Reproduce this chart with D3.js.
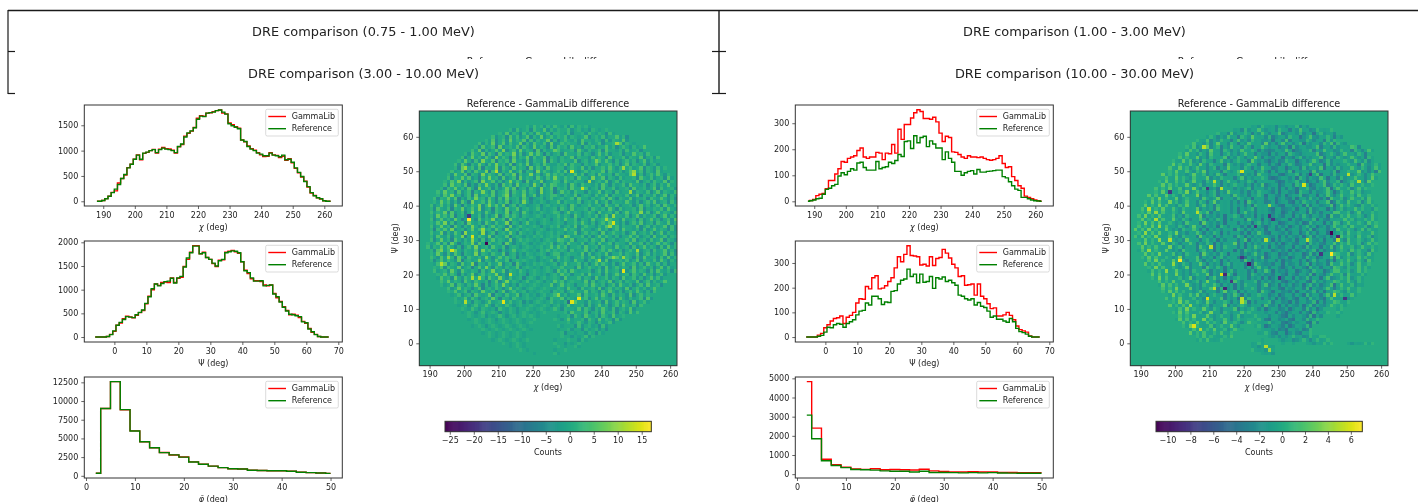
<!DOCTYPE html>
<html>
<head>
<meta charset="utf-8">
<script src="https://cdn.jsdelivr.net/npm/d3@7"></script>
<style>
body { margin: 0; background: #fff; overflow: hidden; }
svg { display: block; filter: blur(0.45px); }
text { font-family: "DejaVu Sans", sans-serif; fill: #222; }
</style>
</head>
<body>
<div id="chart"></div>
<script>
// bins
const chiBins = d3.range(188, 263);
const psiBins = d3.range(-6, 68);
const phiBins = d3.range(2, 52, 2);

const titles = ["DRE comparison (0.75 - 1.00 MeV)", "DRE comparison (1.00 - 3.00 MeV)",
    "DRE comparison (3.00 - 10.00 MeV)", "DRE comparison (10.00 - 30.00 MeV)"];
const diffTitle = "Reference - GammaLib difference";

// 3-10 MeV histograms
const gammaChiA = [0,2,15,52,100,175,205,360,450,520,665,730,830,915,820,945,965,1000,1025,950,1030,1060,1040,1035,1010,950,1075,1120,1285,1340,1385,1455,1640,1690,1680,1740,1745,1770,1790,1800,1740,1725,1545,1510,1470,1440,1210,1175,1090,1040,1010,960,915,885,890,960,915,905,865,890,810,840,760,650,560,480,395,280,165,115,70,45,8,2,0];
const refChiA = [0,2,15,50,100,170,240,330,450,530,660,730,830,910,830,950,970,1000,1020,960,1020,1050,1030,1020,1000,960,1080,1130,1270,1350,1390,1450,1620,1680,1670,1740,1750,1760,1790,1800,1760,1720,1530,1490,1460,1430,1210,1180,1080,1030,1000,950,930,900,900,950,910,900,880,910,820,830,770,660,570,490,390,290,170,110,70,50,10,2,0];
const gammaPsiA = [0,0,0,0,12,55,120,250,295,385,440,425,405,460,515,560,700,860,1000,1120,1090,1150,1160,1150,1250,1150,1240,1260,1490,1640,1790,1930,1930,1760,1790,1680,1640,1550,1490,1620,1630,1790,1810,1830,1800,1770,1590,1410,1340,1230,1190,1190,1170,1100,1080,1100,920,830,750,640,560,470,480,460,410,330,290,180,100,55,10,2,0,0];
const refPsiA = [0,0,0,0,10,50,130,250,310,370,430,420,410,470,520,570,710,850,1020,1120,1080,1130,1170,1180,1240,1140,1250,1280,1480,1670,1780,1920,1920,1760,1780,1680,1640,1560,1500,1610,1640,1780,1800,1820,1810,1780,1590,1400,1360,1250,1180,1180,1190,1080,1090,1100,910,850,740,630,550,480,470,450,430,320,300,170,110,50,10,2,0,0];
const gammaPhiA = [345,9010,12600,8840,6010,4560,3740,3110,2790,2510,1860,1560,1300,1090,950,910,750,700,680,680,600,490,420,370,320];
const refPhiA = [350,9000,12600,8850,6000,4550,3750,3100,2800,2500,1850,1550,1300,1100,950,900,750,700,680,680,600,480,420,370,320];

// 10-30 MeV histograms
const gammaChiB = [0,3,7,22,27,30,48,80,80,105,125,153,150,165,170,175,195,205,170,165,170,170,188,185,160,185,183,218,185,277,238,295,295,320,340,352,345,318,318,315,323,305,262,230,250,245,190,188,180,170,165,175,170,170,168,170,165,160,158,160,165,175,145,130,133,95,80,60,50,20,15,10,5,2,0];
const refChiB = [0,2,5,10,12,27,46,50,60,65,97,110,102,115,125,120,147,150,130,120,120,120,153,125,130,133,150,145,157,180,172,230,232,203,252,225,245,250,210,232,220,205,205,160,190,165,150,115,115,100,110,115,118,105,122,112,112,115,116,118,120,120,95,90,75,60,47,42,15,15,10,5,2,1,0];
const gammaPsiB = [0,0,0,0,8,15,38,50,65,75,78,85,55,80,88,100,138,155,153,205,195,240,248,195,198,208,225,240,280,325,305,335,370,330,328,325,292,295,288,325,290,318,322,355,340,320,295,280,245,248,210,212,215,170,215,165,155,135,115,118,85,85,90,100,88,70,45,30,25,20,5,0,0,0];
const refPsiB = [0,0,0,0,3,7,20,40,38,50,55,52,40,55,62,70,90,105,108,138,130,165,165,155,132,142,140,185,188,215,230,235,275,245,255,220,255,222,225,245,197,240,235,243,225,230,220,210,170,165,155,150,155,130,140,125,120,105,80,85,72,72,65,60,75,62,35,22,18,12,3,0,0,0];
const gammaPhiB = [4830,2400,780,500,360,270,250,280,230,240,230,220,260,170,140,110,110,130,110,110,90,85,80,80,80];
const refPhiB = [3080,1850,700,450,340,240,230,210,170,150,150,110,150,90,85,80,70,80,70,80,60,55,50,50,50];

// tick labels
const chiTicks = [190, 200, 210, 220, 230, 240, 250, 260];
const psiTicks = [0, 10, 20, 30, 40, 50, 60, 70];
const phiTicks = [0, 10, 20, 30, 40, 50];
const mapPsiTicks = [0, 10, 20, 30, 40, 50, 60];
const chiCountTicksA = [0, 500, 1000, 1500];
const psiCountTicksA = [0, 500, 1000, 1500, 2000];
const phiCountTicksA = [0, 2500, 5000, 7500, 10000, 12500];
const chiCountTicksB = [0, 100, 200, 300];
const psiCountTicksB = [0, 100, 200, 300];
const phiCountTicksB = [0, 1000, 2000, 3000, 4000, 5000];
const barTicksA = [-25, -20, -15, -10, -5, 0, 5, 10, 15];
const barTicksB = [-10, -8, -6, -4, -2, 0, 2, 4, 6];

// difference maps, hand estimates of the picture's texture (single cells are too
// blurred to read; the strongest cells are in peaks*). One string per psi row,
// psi 63 down to psi -3, first chi bin in rowStart*. digit = +n, a..i = -n, _ = 0
const rowStartA = [218,213,210,208,206,204,203,202,200,199,198,197,197,196,195,195,194,194,193,192,192,191,191,190,190,190,190,190,190,190,190,190,190,190,189,189,189,190,190,190,191,191,191,192,192,193,193,194,195,196,196,197,198,198,199,200,201,202,202,204,205,206,208,210,213,215,220];
const rowsA = [
"1a2.1b1a2. a1b2a1.1a",
"1b2a.1c2.a 3b1a2.b1c2 a1.2b1a.1",
"1a3b1.c2a1 b3.a2c1a.3 b2a1c.2b1a 1b1",
"2b.1c3a2b. 3c1a4b.2a1 c3.b2a1.c2 a3b1.2c1",
"1a3c.2b4a1 .3c2b1a.4c 2a.3b1c2a. 4b1c3.a2b 1",
"2b1a4c.3b2 a.4c1b3.a2 c4b.1a3c.2 b1a4.c2b3 a.1c",
"1c3a.2d4b. 1a3c2.b4a1 .c3b2a.4d1 3a.b2c4.a1 b3.c1a2",
"2a4c1b.3a5 c.2b4a1.d3 c1a.4b2.c3 a1.5c2b.a3 c1.b4a.2",
"1b3.a4c2.d 3a1.5b2c.4 a3.d1b4.a2 c3.1a4b.c2 5a.1c3b.2 a1",
"2c.4a1b3.c 5a2.d3b1.4 c2a.3d1.b4 a2.c3b.1a5 c.2d1a3.b 4c1a",
"1a4.c2b5.a 3d1.2c4a.b 3c1.a4d2.b 5a.1c3b.2a 4d1.c3a.2 b4.1c",
"2b3.d1a4.c 2a5.1b3d.2 a4c.1b3.a2 d5.c1b3a.4 c2.1a3d.b 4a1c.2b",
"1c4a.2b3d1 .a5c2.b3a1 .d4b2.c3a. 1b4d.a2c3. 5a1.b3c2 .a4d1.2b1",
"2a.4c1b3.a 5d2.c1a4b. 3c1.d5a2.b 3c.1a4d2.b 3a5.c1d2. b4a.1c3.a",
"1b4.a3d1.c 5a2.b3c1.4 d2a.5b1c.3 a2.d4b1.c3 a.2d5c1.a 3b4.c1a2.d 1",
"2c1.4a3b.d 2a5.1c3b.2 d4a1.c3.b2 a5.d1c4.a2 b3.1d4a.c 2b1.5a3.c1 b2",
"1a3.5c1b.2 d4a.3b1c.5 a2.d3b1.4c a.2b5.d1a3 .c2b4.a1d .3c2a.4b1. c1",
"2b4.1a3d.c 2a5.b1d3.2 c4a.1b5.d2 a3.c1b4.a2 d.5c1.a3b .4d2.c1a3 .b1",
"1c2.4a1b3. d5a.2c1b.4 a3d.1c2.b5 a.3d1c.4a2 .b3c1.5d. a2b4.c1a3 .d2b1",
"2a4.1c3b.2 d1a5.b3c.1 4d2.a3b1.c 5a.2d3.b1c .4a1.d3b2 .c5a1.b3d .2a4c1",
"1b3.5a1c.2 d4b.1a3c.2 5d1.a4b.3c 1a.2d.1b.a 3c1.d4a2. b5c.1a3d. 2b4a.1c",
"2c1.4a3d.b 2a5.1c3.d2 b4a.1c3.d a.1b.2a.c .3d1a.4b2 .c3a5.1d .b2c4.a1",
"1a4.2b1c3. d5a.2b4.c1 a3d.1b5.c .a1.b.2c.1 a4d.2c1.3 b5a.1d2. c3b1.a4 c2",
"2b.3a1c4.d 1a2.5c1b.3 a4d.2c1.b a.1c.1a.2 b.3d4.a1c 2.5b1a.3 d2c4.1a b3",
"1c3.a2d1.4 b.3a5c.1d2 .b4a.3c. 1a.2b.a.1 c.2a3.d1b 4.c2a5.1 d3b.2c1 a2",
"2a1.4c3b.2 d.5a1b3.c2 .a4d1.c3 .b.a1.a.2 b.1c4.a2d .3b5c.1a 3.d2b1 .4a",
"1b4.2a3d.1 c5.a2c1b.4 d.3a2.c1 .a.1.b.a1 .2c1.a3d. b4.c2a1. 5d.b3 a1c",
"2c.3a1b4.d a2.c3a1.5 b.2d4.a1 .b1.a.1.c .1a3.d2b .4a1c.3 b2.5d 1a3",
"1a3.5b2c.1 d4.a1c3.b 2a.5d1.c .3a.b.1.a .2b.d3a1 .c4.b2a .3c1 d4",
"2b.4a1d3.c 1a5.b2c.3 a1.d4b.2 .a.1.c.a1 .b3.c1a4 .d2.b3a .1c4 a2",
"1d2.3a5b.1 c.4a2d.1b 3.c5a.1b .1.a.1.b. a.2c1.a3 b.4d1.a .2b3 c1",
"2a.4c1b3.d 6a1.b3c.2 d.1a4.c2 .a.b1.a.1 .c2.b1a. 3d.2c4 .a1b 3c",
"1b3.a2c1.5 d.9a2.b4 c1.a3d.1 .b.a1.1a. 1.d2a.4 c1b.3a .2d1 a4",
"2c.4a1d3.b 1a6.c2d.3 a1.b4c.2 .1.a.b.1 .a3.c1d .b2a.4 c1.3 b2",
"1a.3b2c4.d a1.5c3.b 2a.1d4.c .a1.b.a.1 .2c1.b3 a.d4.1 b2a3 .c1",
"2b1.4a3.c1 d.2a5b.1 c3.a2d.1 .b.1.a.1 a.3d2.b 1c4.a .2b3 c1a.",
".1c3.a2d4. b1.a3c5. 2a.d1b.3 a.1.a.b1 .2a1.c4 b.3d1 .a2c .3b1",
"1a4.c2b3.d 1.a5c1.b 2.a3d.1c .b1.a.1. c.2a3.b 1d.4a .2c1 .b3",
"2.b3a.1d4. c2.a1b5. c.3a2.1d .a.1.b.1 .a2c.3b .1a4d .2b .c1",
"1c.3a2.b4d .1a.5c1. b3.a2d.1 .1.a.b.a .2c1.a3 d.b2c .4a .1",
"a2.4b1.c3a .5d1.b2a. 4c.1d3.b .a1.1.a. .3b1.a2 c.4d1 .a2 b",
"1.3c2.a4b. 1d.3a5.c 2.b1a.3c .1.a.b.1 a.2d1.c 3a.1b .4c",
"2a.1b4.c3. a1.d2b.5 a.3c1.a2 .b.1.a.1 .c3.a1d .2b4 .a",
"1.3a2.d1b. 4c.2a1.5 b.c3.a1 .d.1.a.b .1a3.c2 d.1a .3",
"a3.1c4.b2. a.d1c3.a 5.b2a.1d .1.b.1a .c2.a3 b.1c .2",
"2.4a1.c3. b2.a1d.3 c.5a1.b .2a.1.b .a3.c1 d.2 a1",
"1a.3c2.b1 a4.d1c.2 a5.b.c1 .a.1.a. .3b2.a c1.3",
".2b.4a1.c .3d.1a2.c .4a1.b .1.a.1 .a2c.1 b3.a",
"1.3a.2c1. b4.a1d.3 c.2a.1 b.a.1. .c1.a2 b.1",
"a.2b.1c3. a.4d1.b2 a.3c. 1a.b.1 a.2c.1 a3",
".1a.3b2.c .1a4.d1. b2.a .1.a.1 .c2.a 1.",
"1.a2.c1.b .3a.1d.2 a.1c .b.1.a .2a.1 c",
"a.1b.2a.3 .c1.a2.b .1a. 1.a.1 .b.1a",
".1.a2.b1. a.c2.a1 .b. .1.a. 1.a.1",
"a.1.b.2a. 1.c.a1 .b .1.a .a.1",
".1.a.1b. a.2.b .1 a.1. 1.a",
"a.1.a.1. b.1.a .1 .a. .1",
".1.a.1.a. 1.a.1 .a .1",
"a.1.b.1. a.1. a.1 .a",
".1.a.1.a .1.a .1.a",
"a.1.a.1 .a.1 .a.",
".1.a.1. a.1.a",
"a.1.a. 1.a.1",
".1.a.1.a",
"a.1.a.",
".1.a",
"a."
];
// right half of the map, psi 62 down to psi -3, first chi bin in rightStarts
const rightStarts = [226,227,228,226,227,228,227,226,228,227,226,228,226,227,228,227,226,228,227,226,228,226,227,228,227,226,228,227,226,228,226,227,228,227,226,228,227,226,228,226,227,228,227,226,228,227,226,228,226,227,228,227,226,228,227,226,228,226,227,228,227,226,226,226,226,226];
const rowsRightA = [
"a1..2b.1a. b1.a.",
"1.a2c..1b2 .a1.c2a.",
".2b1.a.3c. 1a2b..3a1c",
"1c.2.a1b3. .a1.c2b1.a 3b",
"a2.1..b3c1 a.2c..1a3b 1.a",
".1b3a.c1.2 b..3a1c.2. b1a.3",
"2a..1c3.b1 a.2c3..a1b 2a.1c",
".1c3..a2b1 .c.3a2b..1 c.a3.1b2",
"1a.3c1..b2 a1.c3a..2b 1.a3c.1b2",
"b1..a3c.1b ..2a3.c1b. 2a1c.3b1a",
"a1.3b2..c1 a.3b..2a1c .3b1.a2c.1b",
"1c.2.a3b1c ..2a3.b1c. 2a.3c1.b2a1",
".2a3c1.b.2 a1..3c2.a1 b.3a.2c1.b3a",
".1b..3a2c. 1b3.a1c2.. a3.b1c.2a3 .b1",
"a2.1c3..b1 a.3c1.b2a. .1c3.a2b.1c 3a",
"1b3.a1..c2 b.1a3c.2b1 ..a3c.1b2. a3c1",
"2.a1c3.b2. .a1b3.c1a. 2b3..a1c.2 b1a3",
".1c3..a2b. 1c3a.2b..1 c3a.1b.3c2 a.1b2",
"a3.1b2..c1 a.3b1.c2a. .3b1.a2c.3 b1.a2",
"2.b1.a3c.1 .b2a.3c1.. a2b.3c1.a2 b.3c1a",
"1a.2c3..b1 a.2b3.c1.a 3b..1c2.a3 .b1c2a",
".3b1..a2c. 1a3b.2c1.. a3.b1c.2a3 b.1c2a.",
"a1.c3.b..2 a.1c3.a2b. .1c.3a1b.2 c3.a1b2.",
"2.b3a..1c2 .a1b3.c2a. .1b3c.a1.2 b3.a1c2.",
"1c.3a1.b.2 .c3a.1b2c. 3a1..b2c.3 a1.b2c3.",
".2a1.c3.b. 1a2c.3b1.. a2c.3b1a.2 c.3b1a.2",
"a3..2c1.b3 a.1c2..b3a .1c2b.3a1c .2b3a.1c",
"1.c..2a3.b 1c.2a3..b1 c.2a3b.1c2 .a3b1.c2",
".2b.1a3c.2 ..b1a3c.2b 1..a3c.2b1 a.3c2b.1",
".3a1.c2..b .3a1c.2b3. .a1c2b.3a1 .c2b3a.1",
"a1.b..3c.2 a1.c3b.2.a 1c.3b.1a2c .3b1.a2c",
"1c.3a..2b1 c.3a2.b1c. .3a2b.1c3a .2b1.c3a",
"2.a3c..1b2 .a3c.1b..2 a3c.1b2a.3 c1.b2a3c",
".1b3..a2c. 1b3a.2c1.. b3a.2c1b.3 a2.c1b3a",
"a3.2c..1b3 a.1c2..b3a .1c2b.3a1 .c2b3a1c",
"1.c2a..3b1 c.2a3.b1c. 2a3b.1c2a. 3b1c.2",
"2b.1..a3c2 b.1a3c..2b 1.a3c.2b1a .3c2b.1",
".3a1.c..2b .3a1c.2b3. a1.c2b3a.1 c2b3a1",
"a1.b3..c1a 2.b3c..1a2 b.3c1.a2b3 .c1a2b",
"1c.3a..2b1 c.3a2.b1c. 3a.2b1c3.a 2b1c",
".2a..c3b.2 .a1c3b.2a1 .c3b.2a1c. 3b2a",
".2b3.a..1c .2b3a.1c2b .3a1.c2b3. a1c2",
"a3.1c..2b3 a.1c2b.3a. 1c2.b3a1c. 2b",
"1.c3a..2b1 .c3a.2b1.c 3a.2b1c.3a 2b",
"2b.1..a3c2 b.1a3c.2b1 .a3c.2b1a. 3",
".3a1.c..2b 3.a1c.2b3. a1c.2b3a.1 c",
"a1.b3..c2a .1b3c.2a1. b3c.2a1b.3",
"1c.2..a3b1 .c2a3.b1c. 2a3.b1c2.",
"2.a1b..3c2 a.1b3.c2a1 .b3c.2a1",
".3b1.a..2c .3b1.a2c3. b1a.2c3b",
"a1.c3..b2a .1c3b.2a1. c3b.2a",
"1b.3a..1c2 b.3a1c.2b3 .a1c2",
"2.c1..a3b2 .c1a3.b2c. 1a3b",
".1b3..a2c. 1b3a.2c1.b 3a2",
"a..1c2.b3. a1c2.b3a. 1",
"1.b.3a..1c 2.b3a1.c2b",
"..1a.2.b1. c1a.2b",
".1a...c2b. 1a.c2b",
"a..1b..c1a .1b.c",
"1c..a..b1. c1a",
".1..b.a.2 b1",
"a...1..b1a .",
"1..b.a.1",
".1.a..1a",
"a..1.",
"1a."
];
const peaksA = [[231,50,15],[209,50,12],[200,51,10],[201,36,17],[201,37,-18],[206,29,-26],[205,32,10],[205,33,10],[196,27,14],[193,27,8],[193,23,12],[195,25,9],[202,19,11],[204,19,11],[213,20,13],[200,12,12],[211,12,15],[231,12,15],[230,12,-10],[233,13,15],[234,45,13],[236,47,11],[244,58,11],[246,51,10],[249,49,12],[249,50,10],[248,44,10],[251,38,9],[241,36,11],[243,37,10],[243,35,14],[242,34,10],[246,21,15],[250,27,11],[246,25,10],[239,24,11],[229,31,8],[227,14,9],[243,25,9],[205,47,8],[207,40,8],[237,48,8],[238,53,8]];

const rowStartB = [222,217,212,209,206,205,203,203,201,201,199,199,198,198,196,197,195,196,194,194,192,193,191,191,190,190,189,190,189,189,188,189,188,190,189,190,189,191,190,191,191,192,192,193,193,195,195,196,196,198,197,199,198,200,199,201,200,202,202,204,204,206,206,222,222,222,225];
const rowsB = [
"a.b1.a.c.a b.a1c.b",
"a.c1b.a2.c b.1a.d1.b2 a.c1b.a.1",
"1a.c2b.a1. d.b2a.c1.b a.c2.b1a.d 1.a",
"a1.c.b2a.d 1.b3.a.c1b .a2.d.b1.c a.2b.c1a",
"1.a2c.b1.a d.2b.c1a.b 3.c1.d.a2. b.c1a.b2.d 1",
"2a.b1c.3a. c1.d.b2.a .c3.a1.d.b 2.c.a1b.d. 1a.c2",
"1.2b.a3c.1 d.b2a.c1. d.a2.b1.c .3a.d.b1.c a.2d.b1c. a.1c",
"a2.1c.b3.a d1.c.b2.a 1.d.c3.a.b 1.c.d2.a.b 1.c.a3.b. d1.c.2a",
"1.3a.b1.c2 a.d.1b.c. 2a.d.b1.c .a3.d1.b. c.2a.d1.b c.a3.b1.d",
"2.1a.3b.c1 .a.2d.b1. c.a3.d.b. 1c.a.d2.b .c1.a.d3. b.1c.a2.d 1.",
"1.a3.2b.c1 a.d.2b.c. 1a.d3.b.c 1.a.d.2b. c1.d.a3. b.c1.d.a2 .b1c.",
"3.1a.2.b3. c1.a.d2.b .c.1a.d.b 3.c.a1.d. b2.c.d.a 1.b.3c.a. d2.b.1a",
"2.a3.1b.2a .c.1d.b3. a.c1.d.b2 .a.c.d1.b .a2.c.d. 1b.c.a3.d .b1.c.2a",
"1.3.a2.b1. 3c.a.d1.b .2c.a.d.1 b.c.d2.a .b.c1.d. a.b2.c.d 1a.3b.c. d2",
"3.1.2a.b.3 .a1c.b2.d .a.1c.b.d 2.a.c.b1 .d.a.c2. b.d1.a.c .3b.a1.c .2",
"2.a3.1.b2. a.3c.b1.a .d.2c.b.a 1.d.c.b2 .a.d.c1. b.a.d.2c .b1.a.c .3a",
"1.3.a2.1b. 3a.c1.b.d .2a.c.b1. d.a.c.d2 .b.a.c.1 d.b.a2.c .d1.b.a .c3",
"3.2.1a.3.b .1c.a2.d. b.1a.c.d .b2.a.c. d1.b.a.c .d.2b.a. c1.d.b3 .a.1",
"2.1.3a.2b. a4.c1.b. d2.a.c.b .1d.a.c. b.d2.a.c .b1.d.a. c.3b.a .2c.1",
"1.3.2.a1.4 b.2a.c.1 d.b3.a.c .d.b1.a. c.d.e.2b .a.c1.d. b.a3.c .1b.d.2",
"3.2.a3.1.b 2.a.4c.b .1d.a.c2 .b.d.a1. c.e.b.d .2a.c.b1 .d.a.3 c.b1.a.2",
"2.4.1a.3b. 1.a.c2.b .3d.a.c1 .b.e.a.d .c.b2.a .d.c1.b. a.2d.c .b1.a.3",
"1.3.2.a4.1 b.2a.c1. d.3b.a.c .d.e2.b. a.c.d1.b .a.e.c2. b.a1.d .c.2b.a 1",
"3.1.4.2a.b 1.3a.c.2 b.d1.a.c .b.d.e1. a.c.b.d .2a.e.c. b1.a.d .c2.b.a .1",
"2.4.1.3.a2 .b1.a.3c .b.d2.a. c.e.b.1 d.a.c.e. b2.a.d. c.1b.e .a.c2.b .a1",
"1.3.5.2.a1 .b3.a.c1 .2d.b.a. c.e.2b. d.a.e.c .b.1a.d .c.e2. b.a.c1 .d.2a",
"2.4.1.3.a. 2b.c1.a. 3d.b.c. e.a1.d. b.e.c.a .d.2b.e .c.a1. d.b.c2 .a.1b",
"3.1.6.2.a3 .b1.c.a2 .d.b1.e .c.a.d2 .b.e.c. a1.d.b. e.c.2a .d.b1 .c.a2",
"1.4.2.3a.1 .b.c2.a. d3.b.c. e.a.d.b .e.1c.a .d.b.e. c1.a.d .b.c2 .a.1",
"2.1.3.5.2a .b1.c.3a .d.b.e1 .c.a.d. e.b.c2.a .d.e.b .c1.a.d .e2.b .c.a1",
"3.2.4.1.a3 .b.c1.a2 .d.e.b. c.a.e1. d.c.b.e .a.d2.c .b.e.a .1d.b .c2",
"1.5.2.3.a1 .4b.c.a2 .d.b1.e .c.a.d. e.b2.c. a.e.d.b .1c.a.e .d.b2 .c.1",
"2.3.1.4.a. 2b.c1.a. d3.b.e. c.a.d1. e.c.b.a .e.d.2b .c.a.e .1d.b .2",
".3.1.5.a2. b.c3.a.d .1b.e.c .a.d.2e .b.c.a. d.e.1b .c.a.d .e2.b .1",
"2.4.1.a3.b 1.c.a2.d .b1.e.c .a.3d.e .c.b.a. e.d1.b. c.a.e2 .d.b .a",
"3.1.2.a.4b .1c.a.d2 .b.e.c1 .a.d.e. b2.c.a. d.e.1b .c.a.d .2e.b",
".2.5.1.a3. b.c2.a.d .1b.e.c .a.e.d1 .b.c.a. e.d.b2 .c.a.e .1d.",
"3.1.4.a.2b .c1.a.d3 .b.c1.e .a.d.c. 2b.e.a .d.c1 .b.e.a .2c",
"1.3.2.a1.b .4c.a.2d .b.e.1c .a.d.e. b.c2.a .e.d.b .1c.a .d2",
".2.4.1a.3. b.c.a2.d .b1.e.c .a.d2. e.b.c .a1.d.e .b.c .2a",
"3.1.2.a.5. b1.c.a3 .d.b.e .1c.a.d .e2.b.c .a.d1 .e.b .c",
"1.4.2.a1.b .3c.a.d2 .b1.e.c .a.d.e .2b.c.a .d1.e .b.a",
".2.1.5a.3. b.c1.a2 .d.b.e. 1c.a.d .e.b2.c .a.d1 .b.",
"3.2.1.a4.b .c.1a.3d .b.c2.e .a.d1. b.c.e .2a.d .b1",
"1.4.2.a.1b .3c.a.d .2b.e.c .1a.d. b.e.c2 .a.d .1",
"2.1.3.a2.b .1c.4a.d .b.e2. c.a.1d .b.e.c .2a.",
".3.2.1a.4. b.c1.a2 .d.b.e .c1.a. d.2b.e .c.a .1",
"2.1.4.a.3b .c.a2.d1 .b.e.c .a1.d .b.e2 .c.a",
"1.3.2.1a.b .2c.a.d .3b.1e .c.a. d2.b .e.c 1",
".4.1.a2.3b .c.1a.d .b2.e. c.a1 .d.b .e2.c",
"2.1.3.a.1b .c4.a.2 d.b.e .c1.a .d.b .1e",
"1.4.2.a1.b 3.c.a1.d .b.2e .c.a .1d.b .e",
"3.1.2.5a.b .1c.a.3 d.b.1 .c.a .d2.b .1",
".2.4.1.a3. b1.c.a .2d.b .1.c .a.d .2b",
"1.3.2.a.1b .4a.c1 .b.a2 .1. .a.b .1",
"2.1.4.a.3. b.1a.c .2b.a .1 .a.1 .b",
".3.2.1a.4. 1b.a2.c .1a. __ .1a .b.",
"2.1.3.a2.1 .b3.a1. c.2 __ .a.1 .a",
"1.4.1.a.2b .1a.3 .b_ ___ .1a. 1",
".2.6.1.3a. 1b.2 _._ ____ .a1 .",
"3.1.2.a1.2 .a1 ___ ____ a.1 a",
"1.2.1.a.1. 2_ __ ____ ____ .1a.b .1.a.b .1 a.1",
".1.2.a.1_ __ ____ ____ .a.1.b .a.1.b .a 1",
"a.1.2.a __ ____ ____ ___ .a.1 ____ .b.a.1 .1",
"a.b.1.a",
"1.a.b5.",
".a.b",
"a.1"
];
const rowsRightB = [
"ba.c1.ad.b 2a.cb1.a",
"c.a2db..b1 ca.e.1ba.c",
"dba.c1a.eb .2bc.a1.d .b",
"b.ea.c2d.a bb1.ca.d1b",
"cad.2b.ca1 e.b..c1a2d 1ab",
"a.db.e1ca. bb.2da.c1b ..a2",
"dc.ab2.ecb .a1d.b2a.c b1a.",
"be.ca.d1.b ca..a2db.1 ac.2a",
"c.ae.bd.1c ab..2d.ac1 .ba2.b",
"eb.dc1a.eb .ca2.db1c. a.1.b",
"ad.ce.b1ad c..2ba.e1c .ba.1",
"dc.aeb..d1 ca.b2e.ac1 b.a2.",
"be.da.c1e. ba.d2ca..b 1ea.1.",
"ca.deb.a1d .cb.2ea.c1 b.a2b",
"edb.ac.e1a d.bc2.ea.d 1ba.2.",
"a.ced.ba1c .ebad.2c.a 1eb.1",
"dba.ec..d1 ab.ec.a2db 1a.c2.",
"c.ead.be.a 1cd.ba2e.c 1a.db1",
"bd.ea.cbe1 .ad.cba2.e 1ca.b2",
"e.acd.eb.a 1dc.ae.b2a c1.da2.",
"aeb.cd.ea. c1b.dae2.c b1a.d2",
"dc.eba.de. c1ab.da.2e c.1ba.d2",
"c.bde.acb. e1d.acba2e .d1c.a2.",
"ea.dcb.ea. d1cb.ae.d2 b.c1a.2b",
"bd.aec.db. ae1c.da.b2 e.c1ad.2a",
"aec.bd.ae. c1bd.ac.e2 b.a1dc.a2",
"dcb.ae.cd. ab1e.cd.a2 be.c1a.d2",
"c.aedb.ac. ed1b.ae.c2 da.b1c.a2",
"eb.dac.eb. da1c.eb.da 2c.e1ba.2",
"adc.eb.ad. c1eb.ad.c2 eb.a1dc.2",
"de.abc.da. eb1c.da.e2 bc.d1ae.2",
"bc.ead.bc. ea1d.bc.ea 2d.b1ce.a",
"ead.bc.ea. d1bc.ea.d2 bc.e1ad.2",
"c.daeb.cd. ae1b.cd.a2 eb.c1da.2",
"ae.bdc.ae. bd1c.ae.b2 dc.a1eb.1",
"db.cae.db. ca1e.db.c2 ae.d1bc.2",
"b.aecd.ba. ec1d.ba.e2 cd.b1ae.1",
"ec.adb.ec. ad1b.ec.a2 db.e1ca.2",
"ad.ebc.ad. eb1c.ad.e2 bc.a1de.1",
"cbd.ae.cb. da1e.cb.d2 ae.1cb.d2",
"da.ceb.da. ce1b.da.c2 eb.1da.2",
"e.cbda.ec. bd1a.ec.2b da.1ec.2",
"bd.ace.bd. ac1e.bd.2a ce.1bd",
"aec.bd.ae. cb1d.ae.2c bd.1a",
"ca.deb.ca. de1b.ca.2d eb.1c",
"db.eac.db. ea1c.db.2e ac.1",
"bc.ade.bc. ad1e.bc.2a de",
"ea.cbd.ea. cb1d.ea.2c b",
"adb.ec.ad. be1c.ad.2b e",
"c.eadb.ce. ad1b.ce.2a",
"da.cbe.da. cb1e.da.2",
"bc.ead.bc. ea1d.bc.2",
"eb.adc.eb. ad1c.eb",
"ad.ceb.ad. ce1b.a1",
"ca.bde.ca. bd1e.c",
"de.acb.de. ac1b.1",
"ba.dec.ba. de1c",
"ec.abd.ec. ab1d",
"ab.dce.ab. dc1",
"cd.aeb.cd. a1",
"ab.cab.1a. cb1.a1",
"____.ba.cb .1ac.1a.1",
"_____.__._ __.ab.a1.1",
"",
"",
""
];
// right edge of the 10-30 MeV map, psi 46 down to psi 8, from chi 247
const edgeStart = 247;
const rowsEdgeB = [
"a1.b2a.1",
"2.a1c.2a1",
"b1.a2.1ba.",
".2a.1b2.a1",
"a1c.2.a1b2",
"1.b2a.1c.2.",
"a2.1.bc1.a1.",
".1b.a2.1a.b1",
"2a.1c.2b.a1.",
"b1.2a.1.ca2.",
".a2.1b.a1.2a",
"1c.2.a1.b2.1",
"a.1b2.a.1c.2",
"2.a1.c.2b1.a",
".1b2.a1.a.2.",
"a2.1.b2a.1c.",
"1.c2a.1.b.2a",
"b1.2.a1c.2.1",
".2a.1b.2.a1.",
"a1.b2.1a.c2.",
"1.a2c.1.b2a",
"2b.1.a2.1a.",
".1a2.b1.c2.",
"a2.1c.2a.1",
"1.b1.a2.1a",
"2a.1b.2.1",
".1c2.a.1a",
"a1.2b.1a",
"1.a2.b1.",
".2a.1b.a",
"a1.2.a1",
"1.b1a.1",
".1a.2a",
"a.1b.",
"1.a1",
".1a",
"a1",
"1.",
"a"
];
const peaksB = [[201,24,7],[205,5,6],[192,39,5],[219,50,6],[211,47,5],[213,45,5],[237,46,6],[250,49,5],[253,47,5],[245,26,7],[245,32,-11],[247,31,-9],[247,30,5],[238,30,5],[221,23,-10],[219,25,-8],[214,16,-9],[214,20,-9],[213,20,6],[209,13,6],[211,16,5],[219,12,5],[219,13,5],[246,14,5],[249,13,-8],[198,44,-8],[209,45,-8],[227,37,-8],[228,36,-8],[227,40,4],[223,34,-8],[239,49,-7],[242,26,-8],[230,19,-8],[216,18,-8],[226,-1,5],[208,57,5],[198,30,5],[210,28,5],[226,30,5],[206,38,5]];

const width = 1418;
const height = 502;
const offsetB = 711;

const svg = d3.select("#chart")
    .append("svg")
    .attr("width", width)
    .attr("height", height);

// counts per symbol step for each map; "." is the usual faint cell
function decodeCell(c, unit) {
    if (c >= "1" && c <= "9") return +c * unit.pos;
    if (c >= "a" && c <= "i") return -(c.charCodeAt(0) - 96) * unit.neg;
    if (c === ".") return unit.blank;
    return 0;
}

// writes one block of row strings into the chi/psi grid
function fillGrid(grid, rows, topPsi, startOf, unit) {
    rows.forEach((row, i) => {
        row.replace(/ /g, "").split("").forEach((c, j) => {
            grid.set((startOf(i) + j) + "," + (topPsi - i), decodeCell(c, unit));
        });
    });
}

// turns the row strings and peaks into chi/psi/value cells
function buildCells(rows, starts, rightRows, edgeRows, peaks, unit) {
    const grid = new Map();
    fillGrid(grid, rows, 63, i => starts[i], unit);
    fillGrid(grid, rightRows, 62, i => rightStarts[i], unit);
    fillGrid(grid, edgeRows, 46, () => edgeStart, unit);
    peaks.forEach(p => grid.set(p[0] + "," + p[1], p[2]));
    const cells = [];
    for (let chi = 187; chi < 262; chi++) {
        for (let psi = -6; psi < 68; psi++) {
            cells.push({ chi, psi, value: grid.get(chi + "," + psi) || 0 });
        }
    }
    return cells;
}

function styleAxis(axis) {
    axis.attr("font-size", 8).attr("font-family", null);
    axis.select(".domain").remove();
    axis.selectAll(".tick line").attr("stroke", "#222").attr("stroke-width", 0.7);
    axis.selectAll(".tick text").attr("fill", "#222");
}

function spines(g, x0, x1, y0, y1) {
    g.append("rect")
        .attr("x", x0).attr("y", y0)
        .attr("width", x1 - x0).attr("height", y1 - y0)
        .attr("fill", "none").attr("stroke", "#333").attr("stroke-width", 1);
}

function xLabel(g, x, y, sym, italic) {
    const t = g.append("text")
        .attr("x", x).attr("y", y)
        .attr("text-anchor", "middle")
        .attr("dominant-baseline", "central")
        .attr("font-size", 8);
    t.append("tspan").attr("font-style", italic ? "italic" : "normal").text(sym);
    t.append("tspan").text(" (deg)");
}

function drawHist(g, o) {
    const x = d3.scaleLinear().domain(o.xDomain).range([84.3, 342.3]);
    const y = d3.scaleLinear().domain(o.yDomain).range([o.top + 101, o.top]);

    const line = d3.line()
        .x((d, i) => x(o.bins[i]))
        .y(d => y(d))
        .curve(d3.curveStep);

    g.append("path").attr("d", line(o.gamma))
        .attr("fill", "none").attr("stroke", "#ff0000").attr("stroke-width", 1.4);
    g.append("path").attr("d", line(o.ref))
        .attr("fill", "none").attr("stroke", "#008000").attr("stroke-width", 1.4);

    g.append("g").attr("transform", `translate(0,${o.top + 101})`)
        .call(d3.axisBottom(x).tickValues(o.xTicks).tickSize(3).tickPadding(3).tickFormat(d3.format("d")))
        .call(styleAxis);
    g.append("g").attr("transform", "translate(84.3,0)")
        .call(d3.axisLeft(y).tickValues(o.yTicks).tickSize(3).tickPadding(3).tickFormat(d3.format("d")))
        .call(styleAxis);

    spines(g, 84.3, 342.3, o.top, o.top + 101);
    xLabel(g, 213.3, o.top + 122, o.sym, o.italic);

    // legend
    const box = g.append("g").attr("transform", `translate(265.7,${o.top + 4.3})`);
    box.append("rect")
        .attr("width", 72.6).attr("height", 26.7).attr("rx", 1.5)
        .attr("fill", "#fff").attr("fill-opacity", 0.8)
        .attr("stroke", "#ccc").attr("stroke-width", 0.7);
    [["GammaLib", "#ff0000"], ["Reference", "#008000"]].forEach((d, i) => {
        const ly = 7.2 + i * 12.2;
        box.append("line")
            .attr("x1", 2.6).attr("x2", 20.3).attr("y1", ly).attr("y2", ly)
            .attr("stroke", d[1]).attr("stroke-width", 1.4);
        box.append("text")
            .attr("x", 26).attr("y", ly)
            .attr("dominant-baseline", "central")
            .attr("font-size", 8).text(d[0]);
    });
}

function drawMap(g, o) {
    const x = d3.scaleLinear().domain([187, 262]).range([419.3, 677]);
    const y = d3.scaleLinear().domain([-6.5, 67.5]).range([365.7, 111]);
    const color = d3.scaleSequential(d3.interpolateViridis).domain(o.range);

    g.append("g").selectAll("rect")
        .data(o.cells)
        .enter()
        .append("rect")
        .attr("x", d => x(d.chi))
        .attr("y", d => y(d.psi + 0.5))
        .attr("width", x(188) - x(187))
        .attr("height", y(0) - y(1))
        .attr("shape-rendering", "crispEdges")
        .attr("fill", d => color(d.value));

    g.append("g").attr("transform", "translate(0,365.7)")
        .call(d3.axisBottom(x).tickValues(chiTicks).tickSize(3).tickPadding(3))
        .call(styleAxis);
    g.append("g").attr("transform", "translate(419.3,0)")
        .call(d3.axisLeft(y).tickValues(mapPsiTicks).tickSize(3).tickPadding(3))
        .call(styleAxis);
    spines(g, 419.3, 677, 111, 365.7);

    g.append("text")
        .attr("x", 548).attr("y", 103)
        .attr("text-anchor", "middle").attr("dominant-baseline", "central")
        .attr("font-size", 9.7).text(diffTitle);
    xLabel(g, 548, 387, "χ", true);

    g.append("text")
        .attr("transform", "translate(395,238.5) rotate(-90)")
        .attr("text-anchor", "middle").attr("dominant-baseline", "central")
        .attr("font-size", 8)
        .text("Ψ (deg)");

    // colorbar
    const bx = d3.scaleLinear().domain(o.range).range([445, 651.3]);
    g.append("g").selectAll("rect")
        .data(d3.range(o.range[0], o.range[1], (o.range[1] - o.range[0]) / 200))
        .enter()
        .append("rect")
        .attr("x", d => bx(d))
        .attr("y", 421.3)
        .attr("width", 1.6)
        .attr("height", 10.4)
        .attr("fill", d => color(d));
    g.append("g").attr("transform", "translate(0,431.7)")
        .call(d3.axisBottom(bx).tickValues(o.barTicks).tickSize(3).tickPadding(3))
        .call(styleAxis);
    spines(g, 445, 651.3, 421.3, 431.7);
    g.append("text")
        .attr("x", 548).attr("y", 452.5)
        .attr("text-anchor", "middle").attr("dominant-baseline", "central")
        .attr("font-size", 8).text("Counts");
}

function drawPair(offset, d) {
    const g = svg.append("g").attr("transform", `translate(${offset},0)`);
    drawHist(g, { bins: chiBins, gamma: d.gammaChi, ref: d.refChi, xDomain: [184, 265.7], yDomain: d.chiY,
        top: 105, xTicks: chiTicks, yTicks: d.chiCountTicks, sym: "χ", italic: true });
    drawHist(g, { bins: psiBins, gamma: d.gammaPsi, ref: d.refPsi, xDomain: [-9.4, 71.25], yDomain: d.psiY,
        top: 241, xTicks: psiTicks, yTicks: d.psiCountTicks, sym: "Ψ", italic: false });
    drawHist(g, { bins: phiBins, gamma: d.gammaPhi, ref: d.refPhi, xDomain: [-0.35, 52.4], yDomain: d.phiY,
        top: 377, xTicks: phiTicks, yTicks: d.phiCountTicks, sym: "φ̄", italic: true });
    drawMap(g, { cells: d.cells, range: d.range, barTicks: d.barTicks });
}

// table borders behind the images
const lines = svg.append("g").attr("stroke", "#1a1a1a");
lines.append("line").attr("x1", 8).attr("x2", width).attr("y1", 10.5).attr("y2", 10.5).attr("stroke-width", 1.6);
[8, 719].forEach(x => {
    lines.append("line").attr("x1", x).attr("x2", x).attr("y1", 10).attr("y2", 94).attr("stroke-width", x === 8 ? 1.2 : 1.4);
    [51.5, 93.5].forEach(y => {
        lines.append("line").attr("x1", x === 8 ? 8 : 712).attr("x2", x === 8 ? 15 : 726).attr("y1", y).attr("y2", y).attr("stroke-width", 1.2);
    });
});

// titles; the second row of images hides most of the first row's map titles
svg.append("clipPath").attr("id", "hidden-title").append("rect")
    .attr("x", 0).attr("y", 40).attr("width", width).attr("height", 19);
[0, offsetB].forEach(dx => {
    svg.append("text")
        .attr("x", 548 + dx).attr("y", 61)
        .attr("text-anchor", "middle").attr("dominant-baseline", "central")
        .attr("clip-path", "url(#hidden-title)")
        .attr("font-size", 9.7).text(diffTitle);
});
titles.forEach((t, i) => {
    svg.append("text")
        .attr("x", 363.5 + (i % 2) * offsetB)
        .attr("y", i < 2 ? 31.5 : 73.5)
        .attr("text-anchor", "middle").attr("dominant-baseline", "central")
        .attr("font-size", 12.9).text(t);
});

drawPair(0, {
    gammaChi: gammaChiA, refChi: refChiA, gammaPsi: gammaPsiA, refPsi: refPsiA, gammaPhi: gammaPhiA, refPhi: refPhiA,
    chiY: [-93, 1900], psiY: [-105, 2028], phiY: [-294, 13214],
    chiCountTicks: chiCountTicksA, psiCountTicks: psiCountTicksA, phiCountTicks: phiCountTicksA,
    cells: buildCells(rowsA, rowStartA, rowsRightA, [], peaksA, { pos: 1.6, neg: 1.6, blank: 0 }), range: [-26, 17], barTicks: barTicksA
});
drawPair(offsetB, {
    gammaChi: gammaChiB, refChi: refChiB, gammaPsi: gammaPsiB, refPsi: refPsiB, gammaPhi: gammaPhiB, refPhi: refPhiB,
    chiY: [-18, 370], psiY: [-20, 389], phiY: [-200, 5070],
    chiCountTicks: chiCountTicksB, psiCountTicks: psiCountTicksB, phiCountTicks: phiCountTicksB,
    cells: buildCells(rowsB, rowStartB, rowsRightB, rowsEdgeB, peaksB, { pos: 0.8, neg: 0.8, blank: -0.5 }), range: [-11, 7], barTicks: barTicksB
});
</script>
</body>
</html>
